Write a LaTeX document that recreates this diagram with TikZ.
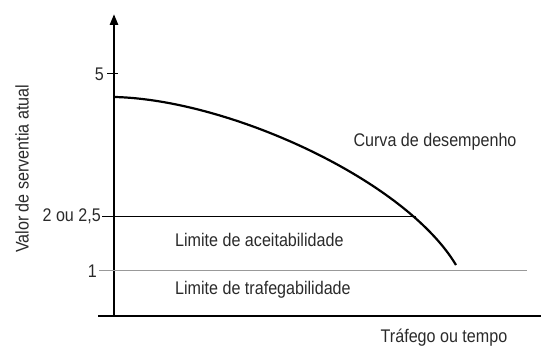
\documentclass[tikz,border=0pt]{standalone}
\usepackage{fontspec}
\setmainfont[FakeStretch=0.88]{Liberation Sans}
\usetikzlibrary{arrows.meta}
\definecolor{txt}{HTML}{2A2A2A}
\begin{document}
\begin{tikzpicture}[x=1pt,y=-1pt,
  lbl/.style={font=\fontsize{18.3}{21}\selectfont,text=txt,inner sep=0pt},
  axis/.style={line width=2.6pt,black},
  thin/.style={line width=1pt}]
\useasboundingbox (0,0) rectangle (541,352);
% axes
\coordinate (ytop) at (114,14);
\coordinate (ybot) at (114,317);
\coordinate (xl) at (98,316);
\coordinate (xr) at (541,316);
\draw[axis,-{Triangle[length=11pt,width=8pt]}] (ybot) -- (ytop);
\draw[axis] (xl) -- (xr);
% tick 5
\coordinate (t5a) at (107,74);
\coordinate (t5b) at (118,74);
\draw[thin] (t5a) -- (t5b);
\node[lbl,anchor=east] (l5) at (104,74) {5};
% acceptability line
\coordinate (a1) at (102,217);
\coordinate (a2) at (416,217);
\draw[thin,black] (a1) -- (a2);
\node[lbl,anchor=east] (l25) at (101,216) {2 ou 2,5};
% trafficability line
\coordinate (b1) at (99,271);
\coordinate (b2) at (527,271);
\draw[thin,gray!80] (b1) -- (b2);
\node[lbl,anchor=east] (l1) at (97,271) {1};
% curve
\coordinate (c0) at (115,97);
\coordinate (c1) at (230,100);
\coordinate (c2) at (405,180);
\coordinate (c5) at (456,265);
\draw[line width=2.2pt] (c0) .. controls (c1) and (c2) .. (c5);
% labels
\node[lbl] (curva) at (435,142) {Curva de desempenho};
\node[lbl,anchor=west] (acc) at (175,240) {Limite de aceitabilidade};
\node[lbl,anchor=west] (traf) at (175,290) {Limite de trafegabilidade};
\node[lbl] (xt) at (444,338) {Tráfego ou tempo};
\node[lbl,rotate=90] (yt) at (22,169) {Valor de serventia atual};
\end{tikzpicture}
\end{document}
